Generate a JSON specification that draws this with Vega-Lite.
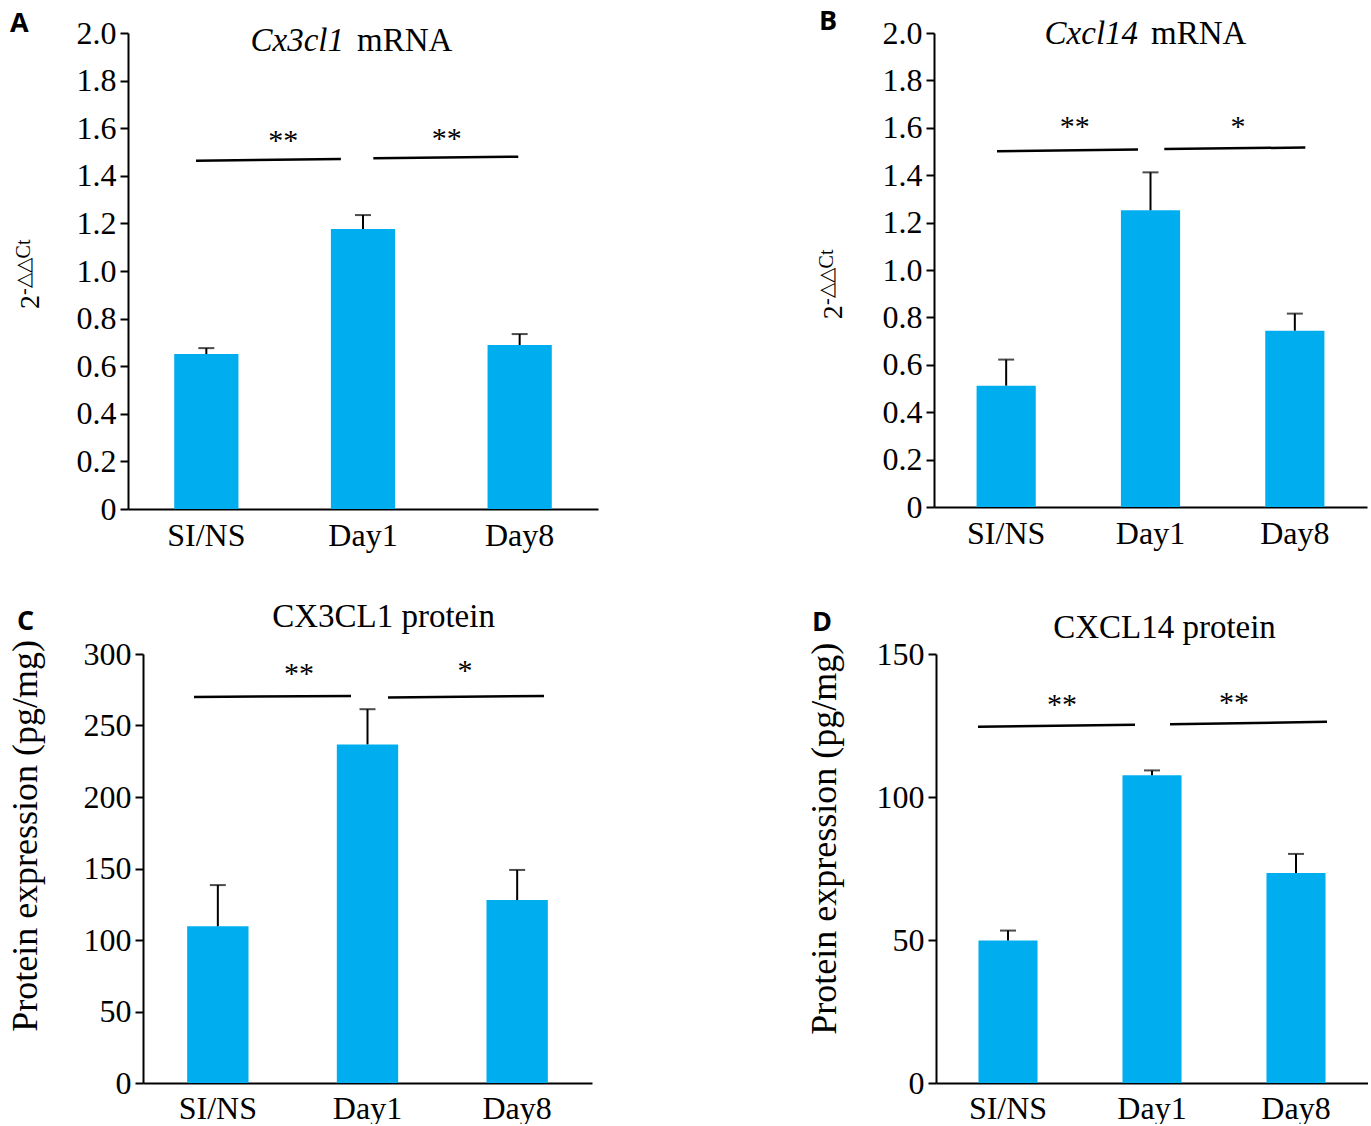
{
  "$schema": "https://vega.github.io/schema/vega-lite/v6.json",
  "padding": {"left": 8, "top": 7, "right": 0, "bottom": 0},
  "background": "white",
  "config": {
    "view": {"stroke": null},
    "axis": {"domainColor": "black", "domainWidth": 2, "tickColor": "black", "tickWidth": 2, "labelColor": "black", "labelFont": "Liberation Serif", "grid": false},
    "text": {"font": "Liberation Serif", "color": "black"}
  },
  "datasets": {
    "barsA": [{"group": "SI/NS", "mean": 0.651, "upper": 0.676}, {"group": "Day1", "mean": 1.176, "upper": 1.235}, {"group": "Day8", "mean": 0.689, "upper": 0.735}],
    "sigA": [{"x1": -0.066, "x2": 0.859, "y1": 1.4635, "y2": 1.4706}, {"x1": 1.066, "x2": 1.991, "y1": 1.4735, "y2": 1.4803}],
    "annA": [
      {"role": "star", "label": "**", "x": 0.4915, "y": 1.566},
      {"role": "star", "label": "**", "x": 1.534, "y": 1.5756},
      {"role": "title_it", "label": "Cx3cl1", "x": 0.8787, "y": 1.923},
      {"role": "title", "label": "mRNA", "x": 0.9617, "y": 1.923},
      {"role": "letter", "label": "A", "x": -1.2532, "y": 2.004},
      {"role": "ylab_base", "label": "2", "x": -1.065, "y": 0.8403},
      {"role": "ylab_sup", "label": "-△△Ct", "x": -1.1224, "y": 0.899}
    ],
    "barsB": [{"group": "SI/NS", "mean": 0.512, "upper": 0.622}, {"group": "Day1", "mean": 1.252, "upper": 1.412}, {"group": "Day8", "mean": 0.744, "upper": 0.816}],
    "sigB": [{"x1": -0.0635, "x2": 0.9135, "y1": 1.501, "y2": 1.5083}, {"x1": 1.0956, "x2": 2.0725, "y1": 1.5108, "y2": 1.5167}],
    "annB": [
      {"role": "star", "label": "**", "x": 0.4748, "y": 1.6237},
      {"role": "star", "label": "*", "x": 1.6062, "y": 1.6237},
      {"role": "title_it", "label": "Cxcl14", "x": 0.9138, "y": 1.9535},
      {"role": "title", "label": "mRNA", "x": 1.0037, "y": 1.9535},
      {"role": "letter", "label": "B", "x": -1.2968, "y": 2.0127},
      {"role": "ylab_base", "label": "2", "x": -1.1374, "y": 0.792},
      {"role": "ylab_sup", "label": "-△△Ct", "x": -1.2, "y": 0.852}
    ],
    "barsC": [{"group": "SI/NS", "mean": 109.6, "upper": 138.4}, {"group": "Day1", "mean": 236.8, "upper": 261.4}, {"group": "Day8", "mean": 127.9, "upper": 149.0}],
    "sigC": [{"x1": -0.1592, "x2": 0.8898, "y1": 270.0, "y2": 270.7}, {"x1": 1.137, "x2": 2.1793, "y1": 269.6, "y2": 270.7}],
    "annC": [
      {"role": "star", "label": "**", "x": 0.5423, "y": 289.5},
      {"role": "star", "label": "*", "x": 1.6515, "y": 291.6},
      {"role": "title_c", "label": "CX3CL1 protein", "x": 1.107, "y": 319.0},
      {"role": "letter", "label": "C", "x": -1.3418, "y": 316.9},
      {"role": "ytitle", "label": "Protein expression (pg/mg)", "x": -1.2049, "y": 172.8}
    ],
    "barsD": [{"group": "SI/NS", "mean": 49.8, "upper": 53.3}, {"group": "Day1", "mean": 107.6, "upper": 109.3}, {"group": "Day8", "mean": 73.4, "upper": 80.1}],
    "sigD": [{"x1": -0.2083, "x2": 0.8819, "y1": 124.6, "y2": 125.3}, {"x1": 1.125, "x2": 2.2153, "y1": 125.4, "y2": 126.3}],
    "annD": [
      {"role": "star", "label": "**", "x": 0.375, "y": 134.0},
      {"role": "star", "label": "**", "x": 1.5694, "y": 134.7},
      {"role": "title_c", "label": "CXCL14 protein", "x": 1.0868, "y": 155.6},
      {"role": "letter", "label": "D", "x": -1.3611, "y": 158.0},
      {"role": "ytitle", "label": "Protein expression (pg/mg)", "x": -1.1944, "y": 85.4}
    ]
  },
  "columns": 1,
  "spacing": 49,
  "concat": [
    {
      "hconcat": [
        {
          "width": 470, "height": 476,
          "resolve": {"scale": {"x": "independent"}},
          "layer": [
            {
              "data": {"name": "barsA"},
              "encoding": {"x": {"field": "group", "type": "nominal", "sort": ["SI/NS", "Day1", "Day8"], "scale": {"paddingInner": 0.59, "paddingOuter": 0.295}, "axis": {"title": null, "labelAngle": 0, "ticks": false, "labelFontSize": 32, "labelPadding": 11}}},
              "layer": [
                {"mark": {"type": "bar", "color": "#00AEEF"}, "encoding": {"y": {"field": "mean", "type": "quantitative", "scale": {"domain": [0, 2], "nice": false}, "axis": {"title": null, "values": [0, 0.2, 0.4, 0.6, 0.8, 1.0, 1.2, 1.4, 1.6, 1.8, 2.0], "labelExpr": "datum.value === 0 ? '0' : format(datum.value, '.1f')", "tickSize": 8, "labelPadding": 4, "labelFontSize": 32}}}},
                {"mark": {"type": "rule", "color": "black", "strokeWidth": 2}, "encoding": {"y": {"field": "mean", "type": "quantitative"}, "y2": {"field": "upper"}}},
                {"mark": {"type": "tick", "color": "black", "thickness": 2, "size": 16, "orient": "horizontal"}, "encoding": {"y": {"field": "upper", "type": "quantitative"}}}
              ]
            },
            {
              "layer": [
                {"data": {"name": "sigA"}, "mark": {"type": "rule", "color": "black", "strokeWidth": 2.5}, "encoding": {"x": {"field": "x1", "type": "quantitative", "scale": {"domain": [-0.5, 2.5], "nice": false, "zero": false}, "axis": null}, "x2": {"field": "x2"}, "y": {"field": "y1", "type": "quantitative", "scale": {"domain": [0, 2], "nice": false}}, "y2": {"field": "y2"}}},
                {"data": {"name": "annA"}, "transform": [{"filter": "datum.role === 'star'"}], "mark": {"type": "text", "fontSize": 30, "align": "center", "baseline": "alphabetic", "dy": 14}, "encoding": {"x": {"field": "x", "type": "quantitative", "axis": null}, "y": {"field": "y", "type": "quantitative"}, "text": {"field": "label"}}},
                {"data": {"name": "annA"}, "transform": [{"filter": "datum.role === 'title_it'"}], "mark": {"type": "text", "fontSize": 33, "fontStyle": "italic", "align": "right", "baseline": "alphabetic"}, "encoding": {"x": {"field": "x", "type": "quantitative", "axis": null}, "y": {"field": "y", "type": "quantitative"}, "text": {"field": "label"}}},
                {"data": {"name": "annA"}, "transform": [{"filter": "datum.role === 'title'"}], "mark": {"type": "text", "fontSize": 33, "align": "left", "baseline": "alphabetic"}, "encoding": {"x": {"field": "x", "type": "quantitative", "axis": null}, "y": {"field": "y", "type": "quantitative"}, "text": {"field": "label"}}},
                {"data": {"name": "annA"}, "transform": [{"filter": "datum.role === 'letter'"}], "mark": {"type": "text", "font": "Open Sans", "fontWeight": "bold", "fontSize": 27, "align": "left", "baseline": "alphabetic"}, "encoding": {"x": {"field": "x", "type": "quantitative", "axis": null}, "y": {"field": "y", "type": "quantitative"}, "text": {"field": "label"}}},
                {"data": {"name": "annA"}, "transform": [{"filter": "datum.role === 'ylab_base'"}], "mark": {"type": "text", "fontSize": 28, "angle": -90, "align": "left", "baseline": "alphabetic"}, "encoding": {"x": {"field": "x", "type": "quantitative", "axis": null}, "y": {"field": "y", "type": "quantitative"}, "text": {"field": "label"}}},
                {"data": {"name": "annA"}, "transform": [{"filter": "datum.role === 'ylab_sup'"}], "mark": {"type": "text", "fontSize": 20, "angle": -90, "align": "left", "baseline": "alphabetic"}, "encoding": {"x": {"field": "x", "type": "quantitative", "axis": null}, "y": {"field": "y", "type": "quantitative"}, "text": {"field": "label"}}}
              ]
            }
          ]
        },
        {
          "width": 433, "height": 474,
          "resolve": {"scale": {"x": "independent"}},
          "layer": [
            {
              "data": {"name": "barsB"},
              "encoding": {"x": {"field": "group", "type": "nominal", "sort": ["SI/NS", "Day1", "Day8"], "scale": {"paddingInner": 0.59, "paddingOuter": 0.295}, "axis": {"title": null, "labelAngle": 0, "ticks": false, "labelFontSize": 32, "labelPadding": 11}}},
              "layer": [
                {"mark": {"type": "bar", "color": "#00AEEF"}, "encoding": {"y": {"field": "mean", "type": "quantitative", "scale": {"domain": [0, 2], "nice": false}, "axis": {"title": null, "values": [0, 0.2, 0.4, 0.6, 0.8, 1.0, 1.2, 1.4, 1.6, 1.8, 2.0], "labelExpr": "datum.value === 0 ? '0' : format(datum.value, '.1f')", "tickSize": 8, "labelPadding": 4, "labelFontSize": 32}}}},
                {"mark": {"type": "rule", "color": "black", "strokeWidth": 2}, "encoding": {"y": {"field": "mean", "type": "quantitative"}, "y2": {"field": "upper"}}},
                {"mark": {"type": "tick", "color": "black", "thickness": 2, "size": 16, "orient": "horizontal"}, "encoding": {"y": {"field": "upper", "type": "quantitative"}}}
              ]
            },
            {
              "layer": [
                {"data": {"name": "sigB"}, "mark": {"type": "rule", "color": "black", "strokeWidth": 2.5}, "encoding": {"x": {"field": "x1", "type": "quantitative", "scale": {"domain": [-0.5, 2.5], "nice": false, "zero": false}, "axis": null}, "x2": {"field": "x2"}, "y": {"field": "y1", "type": "quantitative", "scale": {"domain": [0, 2], "nice": false}}, "y2": {"field": "y2"}}},
                {"data": {"name": "annB"}, "transform": [{"filter": "datum.role === 'star'"}], "mark": {"type": "text", "fontSize": 30, "align": "center", "baseline": "alphabetic", "dy": 14}, "encoding": {"x": {"field": "x", "type": "quantitative", "axis": null}, "y": {"field": "y", "type": "quantitative"}, "text": {"field": "label"}}},
                {"data": {"name": "annB"}, "transform": [{"filter": "datum.role === 'title_it'"}], "mark": {"type": "text", "fontSize": 33, "fontStyle": "italic", "align": "right", "baseline": "alphabetic"}, "encoding": {"x": {"field": "x", "type": "quantitative", "axis": null}, "y": {"field": "y", "type": "quantitative"}, "text": {"field": "label"}}},
                {"data": {"name": "annB"}, "transform": [{"filter": "datum.role === 'title'"}], "mark": {"type": "text", "fontSize": 33, "align": "left", "baseline": "alphabetic"}, "encoding": {"x": {"field": "x", "type": "quantitative", "axis": null}, "y": {"field": "y", "type": "quantitative"}, "text": {"field": "label"}}},
                {"data": {"name": "annB"}, "transform": [{"filter": "datum.role === 'letter'"}], "mark": {"type": "text", "font": "Open Sans", "fontWeight": "bold", "fontSize": 27, "align": "left", "baseline": "alphabetic"}, "encoding": {"x": {"field": "x", "type": "quantitative", "axis": null}, "y": {"field": "y", "type": "quantitative"}, "text": {"field": "label"}}},
                {"data": {"name": "annB"}, "transform": [{"filter": "datum.role === 'ylab_base'"}], "mark": {"type": "text", "fontSize": 28, "angle": -90, "align": "left", "baseline": "alphabetic"}, "encoding": {"x": {"field": "x", "type": "quantitative", "axis": null}, "y": {"field": "y", "type": "quantitative"}, "text": {"field": "label"}}},
                {"data": {"name": "annB"}, "transform": [{"filter": "datum.role === 'ylab_sup'"}], "mark": {"type": "text", "fontSize": 20, "angle": -90, "align": "left", "baseline": "alphabetic"}, "encoding": {"x": {"field": "x", "type": "quantitative", "axis": null}, "y": {"field": "y", "type": "quantitative"}, "text": {"field": "label"}}}
              ]
            }
          ]
        }
      ],
      "spacing": 336,
      "bounds": "flush"
    },
    {
      "hconcat": [
        {"width": 1, "height": 1, "data": {"values": []}, "mark": {"type": "point", "opacity": 0}},
        {
          "hconcat": [
            {
              "width": 449, "height": 429,
              "resolve": {"scale": {"x": "independent"}},
              "layer": [
                {
                  "data": {"name": "barsC"},
                  "encoding": {"x": {"field": "group", "type": "nominal", "sort": ["SI/NS", "Day1", "Day8"], "scale": {"paddingInner": 0.59, "paddingOuter": 0.295}, "axis": {"title": null, "labelAngle": 0, "ticks": false, "labelFontSize": 32, "labelPadding": 10}}},
                  "layer": [
                    {"mark": {"type": "bar", "color": "#00AEEF"}, "encoding": {"y": {"field": "mean", "type": "quantitative", "scale": {"domain": [0, 300], "nice": false}, "axis": {"title": null, "values": [0, 50, 100, 150, 200, 250, 300], "tickSize": 8, "labelPadding": 4, "labelFontSize": 32}}}},
                    {"mark": {"type": "rule", "color": "black", "strokeWidth": 2}, "encoding": {"y": {"field": "mean", "type": "quantitative"}, "y2": {"field": "upper"}}},
                    {"mark": {"type": "tick", "color": "black", "thickness": 2, "size": 16, "orient": "horizontal"}, "encoding": {"y": {"field": "upper", "type": "quantitative"}}}
                  ]
                },
                {
                  "layer": [
                    {"data": {"name": "sigC"}, "mark": {"type": "rule", "color": "black", "strokeWidth": 2.5}, "encoding": {"x": {"field": "x1", "type": "quantitative", "scale": {"domain": [-0.5, 2.5], "nice": false, "zero": false}, "axis": null}, "x2": {"field": "x2"}, "y": {"field": "y1", "type": "quantitative", "scale": {"domain": [0, 300], "nice": false}}, "y2": {"field": "y2"}}},
                    {"data": {"name": "annC"}, "transform": [{"filter": "datum.role === 'star'"}], "mark": {"type": "text", "fontSize": 30, "align": "center", "baseline": "alphabetic", "dy": 14}, "encoding": {"x": {"field": "x", "type": "quantitative", "axis": null}, "y": {"field": "y", "type": "quantitative"}, "text": {"field": "label"}}},
                    {"data": {"name": "annC"}, "transform": [{"filter": "datum.role === 'title_c'"}], "mark": {"type": "text", "fontSize": 33, "align": "center", "baseline": "alphabetic"}, "encoding": {"x": {"field": "x", "type": "quantitative", "axis": null}, "y": {"field": "y", "type": "quantitative"}, "text": {"field": "label"}}},
                    {"data": {"name": "annC"}, "transform": [{"filter": "datum.role === 'letter'"}], "mark": {"type": "text", "font": "Open Sans", "fontWeight": "bold", "fontSize": 27, "align": "left", "baseline": "alphabetic"}, "encoding": {"x": {"field": "x", "type": "quantitative", "axis": null}, "y": {"field": "y", "type": "quantitative"}, "text": {"field": "label"}}},
                    {"data": {"name": "annC"}, "transform": [{"filter": "datum.role === 'ytitle'"}], "mark": {"type": "text", "fontSize": 36, "angle": -90, "align": "center", "baseline": "alphabetic"}, "encoding": {"x": {"field": "x", "type": "quantitative", "axis": null}, "y": {"field": "y", "type": "quantitative"}, "text": {"field": "label"}}}
                  ]
                }
              ]
            },
            {
              "width": 432, "height": 429,
              "resolve": {"scale": {"x": "independent"}},
              "layer": [
                {
                  "data": {"name": "barsD"},
                  "encoding": {"x": {"field": "group", "type": "nominal", "sort": ["SI/NS", "Day1", "Day8"], "scale": {"paddingInner": 0.59, "paddingOuter": 0.295}, "axis": {"title": null, "labelAngle": 0, "ticks": false, "labelFontSize": 32, "labelPadding": 10}}},
                  "layer": [
                    {"mark": {"type": "bar", "color": "#00AEEF"}, "encoding": {"y": {"field": "mean", "type": "quantitative", "scale": {"domain": [0, 150], "nice": false}, "axis": {"title": null, "values": [0, 50, 100, 150], "tickSize": 8, "labelPadding": 4, "labelFontSize": 32}}}},
                    {"mark": {"type": "rule", "color": "black", "strokeWidth": 2}, "encoding": {"y": {"field": "mean", "type": "quantitative"}, "y2": {"field": "upper"}}},
                    {"mark": {"type": "tick", "color": "black", "thickness": 2, "size": 16, "orient": "horizontal"}, "encoding": {"y": {"field": "upper", "type": "quantitative"}}}
                  ]
                },
                {
                  "layer": [
                    {"data": {"name": "sigD"}, "mark": {"type": "rule", "color": "black", "strokeWidth": 2.5}, "encoding": {"x": {"field": "x1", "type": "quantitative", "scale": {"domain": [-0.5, 2.5], "nice": false, "zero": false}, "axis": null}, "x2": {"field": "x2"}, "y": {"field": "y1", "type": "quantitative", "scale": {"domain": [0, 150], "nice": false}}, "y2": {"field": "y2"}}},
                    {"data": {"name": "annD"}, "transform": [{"filter": "datum.role === 'star'"}], "mark": {"type": "text", "fontSize": 30, "align": "center", "baseline": "alphabetic", "dy": 14}, "encoding": {"x": {"field": "x", "type": "quantitative", "axis": null}, "y": {"field": "y", "type": "quantitative"}, "text": {"field": "label"}}},
                    {"data": {"name": "annD"}, "transform": [{"filter": "datum.role === 'title_c'"}], "mark": {"type": "text", "fontSize": 33, "align": "center", "baseline": "alphabetic"}, "encoding": {"x": {"field": "x", "type": "quantitative", "axis": null}, "y": {"field": "y", "type": "quantitative"}, "text": {"field": "label"}}},
                    {"data": {"name": "annD"}, "transform": [{"filter": "datum.role === 'letter'"}], "mark": {"type": "text", "font": "Open Sans", "fontWeight": "bold", "fontSize": 27, "align": "left", "baseline": "alphabetic"}, "encoding": {"x": {"field": "x", "type": "quantitative", "axis": null}, "y": {"field": "y", "type": "quantitative"}, "text": {"field": "label"}}},
                    {"data": {"name": "annD"}, "transform": [{"filter": "datum.role === 'ytitle'"}], "mark": {"type": "text", "fontSize": 36, "angle": -90, "align": "center", "baseline": "alphabetic"}, "encoding": {"x": {"field": "x", "type": "quantitative", "axis": null}, "y": {"field": "y", "type": "quantitative"}, "text": {"field": "label"}}}
                  ]
                }
              ]
            }
          ],
          "spacing": 344,
          "bounds": "flush"
        }
      ],
      "spacing": 14,
      "bounds": "flush"
    }
  ]
}
